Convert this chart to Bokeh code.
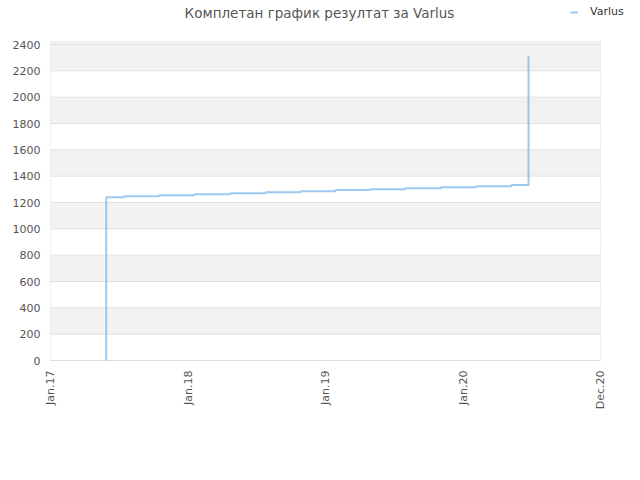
import math
import pandas as pd
from bokeh.plotting import figure
from bokeh.models import (Range1d, FixedTicker, BoxAnnotation, Legend, LegendItem,
                          ColumnDataSource, Label)
from bokeh.embed import file_html
from bokeh.resources import INLINE

# ---- data ----
dates = ["2017-05-29", "2017-05-29", "2017-07-16", "2017-10-17", "2018-01-18",
         "2018-04-24", "2018-07-26", "2018-10-27", "2019-01-28", "2019-04-30",
         "2019-08-01", "2019-11-04", "2020-02-05", "2020-05-09", "2020-06-23"]
scores = [0, 1240, 1248, 1255, 1263, 1271, 1278, 1286, 1294, 1301,
          1309, 1316, 1324, 1332, 2315]
y_ticks = [0, 200, 400, 600, 800, 1000, 1200, 1400, 1600, 1800, 2000, 2200, 2400]
x_tick_dates = ["2017-01-01", "2018-01-01", "2019-01-01", "2020-01-01", "2020-12-31"]
x_tick_labels = ["Jan.17", "Jan.18", "Jan.19", "Jan.20", "Dec.20"]
series_name = "Varlus"
title_text = "Комплетан график резултат за Varlus"

# layout constants (not data): the frame is extended beyond the visible plot box
# so that the title and legend can sit inside it without being clipped
PLOT_W = 550.0          # px width of the visible plot box
PLOT_H = 316.0          # px height for 0..2400
Y_PER_PX = 2400.0 / PLOT_H
PLOT_TOP = 2423         # top edge of the visible plot box, in y units

def to_ms(s):
    return float(pd.Timestamp(s).value // 10**6)

tick_ms = [to_ms(d) for d in x_tick_dates]
span = tick_ms[-1] - tick_ms[0]
x_start = tick_ms[0] - span / PLOT_W * 1
x_end = tick_ms[0] + span / PLOT_W * 590
y_start = -1 * Y_PER_PX
y_end = y_start + 361 * Y_PER_PX

src = ColumnDataSource(dict(x=pd.to_datetime(dates), y=scores))
grid_src = ColumnDataSource(dict(x0=[tick_ms[0]] * len(y_ticks),
                                 x1=[tick_ms[-1]] * len(y_ticks),
                                 y=y_ticks))

FONT = "DejaVu Sans"

p = figure(width=640, height=480, x_axis_type="datetime", title=None,
           output_backend="svg", toolbar_location=None,
           x_range=Range1d(x_start, x_end),
           y_range=Range1d(y_start, y_end),
           min_border_left=49, min_border_right=0,
           min_border_top=0, min_border_bottom=119)

p.background_fill_color = "white"
p.border_fill_color = "white"
p.outline_line_color = None

# bands
for i in range(1, len(y_ticks), 2):
    top = y_ticks[i + 1] if i + 1 < len(y_ticks) - 1 else PLOT_TOP
    p.add_layout(BoxAnnotation(bottom=y_ticks[i], top=top,
                               left=tick_ms[0], right=tick_ms[-1],
                               fill_color="#f2f2f2", fill_alpha=1, line_alpha=0,
                               level="image"))

# grid lines limited to the plot box
p.xgrid.grid_line_color = None
p.ygrid.grid_line_color = None
p.segment(x0="x0", x1="x1", y0="y", y1="y", source=grid_src,
          line_color="#e2e2e2", line_width=1, level="underlay")

# plot box outline
p.add_layout(BoxAnnotation(bottom=0, top=PLOT_TOP, left=tick_ms[0], right=tick_ms[-1],
                           fill_alpha=0, line_color="#cfcfcf", line_width=1,
                           level="underlay"))

# axes
p.yaxis.ticker = FixedTicker(ticks=y_ticks)
p.yaxis.axis_line_color = None
p.yaxis.major_tick_line_color = None
p.yaxis.minor_tick_line_color = None
p.yaxis.major_tick_out = 0
p.yaxis.minor_tick_out = 0
p.yaxis.major_label_standoff = 9
p.yaxis.major_label_text_font = FONT
p.yaxis.major_label_text_font_size = "11px"
p.yaxis.major_label_text_color = "#555555"

p.xaxis.ticker = FixedTicker(ticks=tick_ms)
p.xaxis.major_label_overrides = {t: lab for t, lab in zip(tick_ms, x_tick_labels)}
p.xaxis.axis_line_color = None
p.xaxis.major_tick_line_color = None
p.xaxis.minor_tick_line_color = None
p.xaxis.major_tick_out = 0
p.xaxis.minor_tick_out = 0
p.xaxis.major_label_orientation = math.pi / 2
p.xaxis.major_label_standoff = 9
p.xaxis.major_label_text_font = FONT
p.xaxis.major_label_text_font_size = "11px"
p.xaxis.major_label_text_color = "#555555"

r = p.step("x", "y", source=src, mode="after", line_color="#7cb5ec",
           line_alpha=0.75, line_width=2)

# title (inside the extended frame, above the plot box)
p.add_layout(Label(x=270, y=349, x_units="screen", y_units="screen",
                   text=title_text, text_align="center", text_baseline="middle",
                   text_font=FONT, text_font_size="13.5px",
                   text_color="#555555"))

legend = Legend(items=[LegendItem(label=series_name, renderers=[r])],
                location=(521, 343), orientation="horizontal",
                glyph_width=8, glyph_height=12, label_height=12,
                label_standoff=12, padding=0, margin=0, spacing=0,
                border_line_color=None, background_fill_alpha=0,
                label_text_font=FONT, label_text_font_size="11px",
                label_text_color="#333333")
p.add_layout(legend, "center")

open("out.html", "w").write(file_html(p, INLINE))
